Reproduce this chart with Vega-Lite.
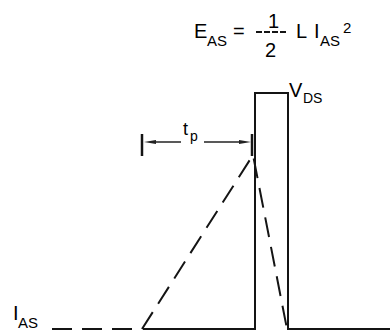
{
  "$schema": "https://vega.github.io/schema/vega-lite/v6.json",
  "width": 390,
  "height": 332,
  "padding": 0,
  "autosize": "none",
  "background": "#ffffff",
  "config": {"view": {"stroke": null}, "axis": {"disable": true}},
  "datasets": {
    "vds": [
      {"i": 0, "x": 143, "y": 329},
      {"i": 1, "x": 255, "y": 329},
      {"i": 2, "x": 255, "y": 93},
      {"i": 3, "x": 288, "y": 93},
      {"i": 4, "x": 288, "y": 329},
      {"i": 5, "x": 390, "y": 329}
    ],
    "ias": [
      {"i": 0, "x": 52, "y": 329},
      {"i": 1, "x": 142, "y": 329},
      {"i": 2, "x": 253, "y": 155},
      {"i": 3, "x": 287, "y": 329}
    ],
    "bars": [
      {"x": 142, "y": 134, "y2": 156},
      {"x": 252, "y": 134, "y2": 156}
    ],
    "arrowlines": [
      {"x": 152, "x2": 181, "y": 142},
      {"x": 204, "x2": 244, "y": 142}
    ],
    "headsLeft": [{"x": 150, "y": 142}],
    "headsRight": [{"x": 245, "y": 142}],
    "frac": [{"x": 256, "x2": 287, "y": 32}],
    "big": [
      {"x": 194, "y": 38, "t": "E"},
      {"x": 233, "y": 38, "t": "="},
      {"x": 268, "y": 28, "t": "1"},
      {"x": 265, "y": 57, "t": "2"},
      {"x": 296, "y": 38, "t": "L"},
      {"x": 314, "y": 38, "t": "I"},
      {"x": 289, "y": 97, "t": "V"},
      {"x": 13, "y": 320, "t": "I"}
    ],
    "mid": [
      {"x": 183, "y": 135, "t": "t"}
    ],
    "sub": [
      {"x": 207, "y": 46, "t": "AS"},
      {"x": 320, "y": 46, "t": "AS"},
      {"x": 343, "y": 33, "t": "2"},
      {"x": 18, "y": 328, "t": "AS"}
    ],
    "small": [
      {"x": 303, "y": 103, "t": "DS"},
      {"x": 190, "y": 141, "t": "p"}
    ]
  },
  "layer": [
    {
      "data": {"name": "vds"},
      "mark": {"type": "line", "color": "#141414", "strokeWidth": 2, "strokeJoin": "miter", "strokeCap": "butt"},
      "encoding": {
        "x": {"field": "x", "type": "quantitative", "scale": {"domain": [0, 390], "nice": false, "zero": false}},
        "y": {"field": "y", "type": "quantitative", "scale": {"domain": [332, 0], "nice": false, "zero": false}},
        "order": {"field": "i"}
      }
    },
    {
      "data": {"name": "ias"},
      "mark": {"type": "line", "color": "#141414", "strokeWidth": 2, "strokeDash": [20, 10], "strokeCap": "butt"},
      "encoding": {
        "x": {"field": "x", "type": "quantitative"},
        "y": {"field": "y", "type": "quantitative"},
        "order": {"field": "i"}
      }
    },
    {
      "data": {"name": "bars"},
      "mark": {"type": "rule", "color": "#141414", "strokeWidth": 2.5},
      "encoding": {
        "x": {"field": "x", "type": "quantitative"},
        "y": {"field": "y", "type": "quantitative"},
        "y2": {"field": "y2"}
      }
    },
    {
      "data": {"name": "arrowlines"},
      "mark": {"type": "rule", "color": "#222222", "strokeWidth": 1.5},
      "encoding": {
        "x": {"field": "x", "type": "quantitative"},
        "x2": {"field": "x2"},
        "y": {"field": "y", "type": "quantitative"}
      }
    },
    {
      "data": {"name": "headsLeft"},
      "mark": {"type": "point", "shape": "M-1,0L1,-0.35L1,0.35Z", "filled": true, "color": "#222222", "size": 144, "opacity": 1},
      "encoding": {
        "x": {"field": "x", "type": "quantitative"},
        "y": {"field": "y", "type": "quantitative"}
      }
    },
    {
      "data": {"name": "headsRight"},
      "mark": {"type": "point", "shape": "M1,0L-1,-0.35L-1,0.35Z", "filled": true, "color": "#222222", "size": 144, "opacity": 1},
      "encoding": {
        "x": {"field": "x", "type": "quantitative"},
        "y": {"field": "y", "type": "quantitative"}
      }
    },
    {
      "data": {"name": "frac"},
      "mark": {"type": "rule", "color": "#141414", "strokeWidth": 2, "strokeDash": [6, 2]},
      "encoding": {
        "x": {"field": "x", "type": "quantitative"},
        "x2": {"field": "x2"},
        "y": {"field": "y", "type": "quantitative"}
      }
    },
    {
      "data": {"name": "big"},
      "mark": {"type": "text", "font": "Liberation Sans", "fontSize": 20, "align": "left", "baseline": "alphabetic", "color": "#000000"},
      "encoding": {
        "x": {"field": "x", "type": "quantitative"},
        "y": {"field": "y", "type": "quantitative"},
        "text": {"field": "t"}
      }
    },
    {
      "data": {"name": "mid"},
      "mark": {"type": "text", "font": "Liberation Sans", "fontSize": 18, "align": "left", "baseline": "alphabetic", "color": "#000000"},
      "encoding": {
        "x": {"field": "x", "type": "quantitative"},
        "y": {"field": "y", "type": "quantitative"},
        "text": {"field": "t"}
      }
    },
    {
      "data": {"name": "sub"},
      "mark": {"type": "text", "font": "Liberation Sans", "fontSize": 15, "align": "left", "baseline": "alphabetic", "color": "#000000"},
      "encoding": {
        "x": {"field": "x", "type": "quantitative"},
        "y": {"field": "y", "type": "quantitative"},
        "text": {"field": "t"}
      }
    },
    {
      "data": {"name": "small"},
      "mark": {"type": "text", "font": "Liberation Sans", "fontSize": 14, "align": "left", "baseline": "alphabetic", "color": "#000000"},
      "encoding": {
        "x": {"field": "x", "type": "quantitative"},
        "y": {"field": "y", "type": "quantitative"},
        "text": {"field": "t"}
      }
    }
  ]
}
